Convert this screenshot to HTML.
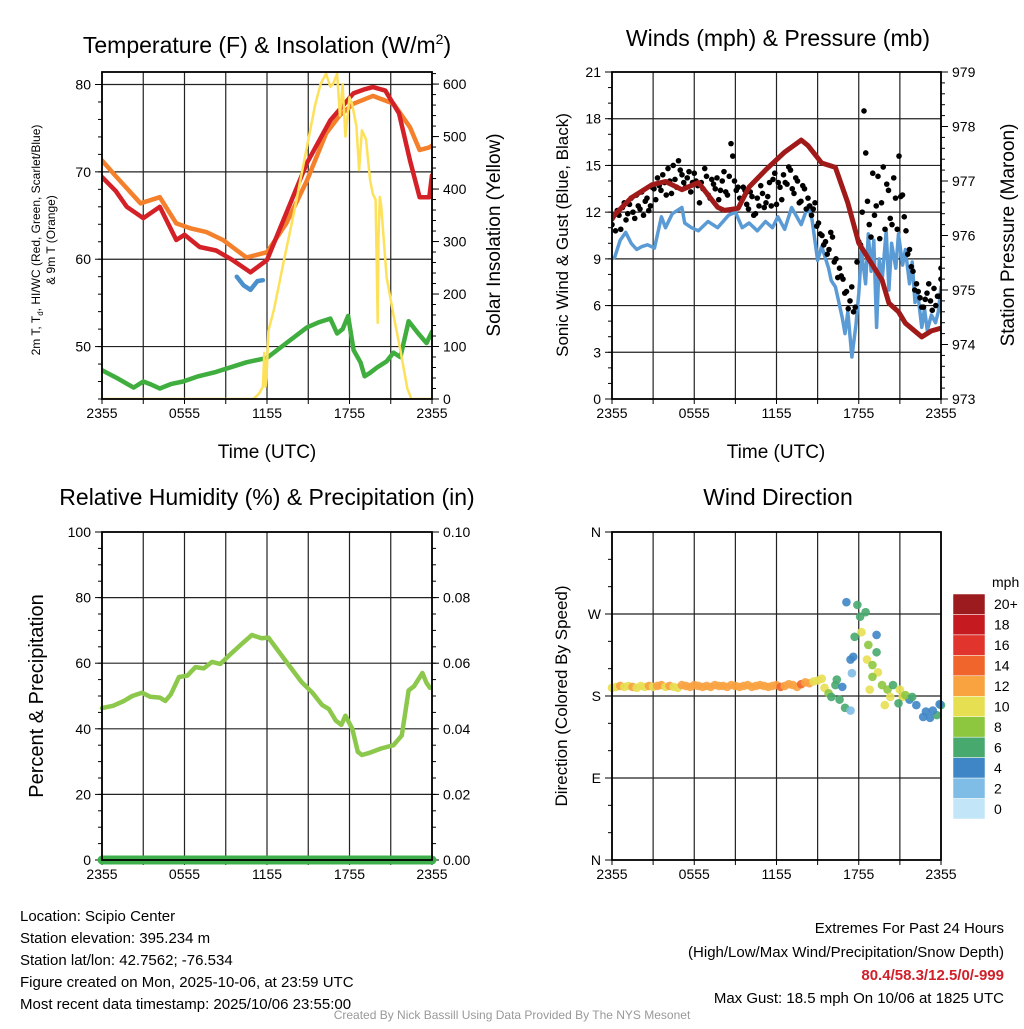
<!DOCTYPE html>
<html><head><meta charset="utf-8"><style>
html,body{margin:0;padding:0;background:#fff;}
svg text{font-family:"Liberation Sans",Arial,sans-serif;fill:#000;}
</style></head><body>
<svg id="s" width="1024" height="1024" viewBox="0 0 1024 1024" xmlns="http://www.w3.org/2000/svg">
<rect width="1024" height="1024" fill="#fff"/>
<text x="267" y="53" font-size="23" text-anchor="middle">Temperature (F) &amp; Insolation (W/m<tspan font-size="14" dy="-9">2</tspan><tspan dy="9">)</tspan></text>
<text x="778" y="46" font-size="23" text-anchor="middle">Winds (mph) &amp; Pressure (mb)</text>
<text x="267" y="505" font-size="23" text-anchor="middle">Relative Humidity (%) &amp; Precipitation (in)</text>
<text x="778" y="505" font-size="23" text-anchor="middle">Wind Direction</text>
<text x="267" y="458" font-size="19" text-anchor="middle">Time (UTC)</text>
<text x="776" y="458" font-size="19" text-anchor="middle">Time (UTC)</text>
<text transform="translate(40,240) rotate(-90)" font-size="12" text-anchor="middle">2m T, T<tspan font-size="8" dy="3">d</tspan><tspan dy="-3">, HI/WC (Red, Green, Scarlet/Blue)</tspan></text>
<text transform="translate(55,240) rotate(-90)" font-size="12" text-anchor="middle">&amp; 9m T (Orange)</text>
<text transform="translate(500,235) rotate(-90)" font-size="19" text-anchor="middle">Solar Insolation (Yellow)</text>
<text transform="translate(568,235) rotate(-90)" font-size="17" text-anchor="middle">Sonic Wind &amp; Gust (Blue, Black)</text>
<text transform="translate(1014,235) rotate(-90)" font-size="19" text-anchor="middle">Station Pressure (Maroon)</text>
<text transform="translate(43,696) rotate(-90)" font-size="20" text-anchor="middle">Percent &amp; Precipitation</text>
<text transform="translate(567,696) rotate(-90)" font-size="17" text-anchor="middle">Direction (Colored By Speed)</text>
<g font-size="15">
<text x="20" y="921">Location: Scipio Center</text>
<text x="20" y="943">Station elevation: 395.234 m</text>
<text x="20" y="965">Station lat/lon: 42.7562; -76.534</text>
<text x="20" y="987">Figure created on Mon, 2025-10-06, at 23:59 UTC</text>
<text x="20" y="1009">Most recent data timestamp: 2025/10/06 23:55:00</text>
</g>
<g font-size="15" text-anchor="end">
<text x="1004" y="933">Extremes For Past 24 Hours</text>
<text x="1004" y="957">(High/Low/Max Wind/Precipitation/Snow Depth)</text>
<text x="1004" y="980" style="fill:#d0202a" font-weight="bold">80.4/58.3/12.5/0/-999</text>
<text x="1004" y="1003">Max Gust: 18.5 mph On 10/06 at 1825 UTC</text>
</g>
<text x="512" y="1019" font-size="12" text-anchor="middle" style="fill:#999">Created By Nick Bassill Using Data Provided By The NYS Mesonet</text>
<g id="plots"></g>
</svg>
<script>
// ---- Temperature panel data ----
const orangeT=[0,1.0,2.8,4.2,5.4,6.5,7.6,8.8,10.5,12.0,13.4,14.9,16.3,17.3,18.3,19.7,21.2,22.4,23.1,23.8,24];
const orangeV=[71.3,69.5,66.4,67.1,64.1,63.5,63.1,62.2,60.2,60.8,64.1,69.0,74.4,76.5,77.8,78.7,77.8,75.1,72.5,72.8,73.0];
const redT=[0,1.0,1.8,3.0,4.2,5.4,6.0,7.1,8.3,9.5,10.8,12.0,13.2,14.9,16.6,18.3,19.0,19.7,20.6,21.6,22.4,23.1,23.8,24];
const redV=[69.4,67.8,66.0,64.7,66.0,62.2,62.8,61.4,61.0,59.9,58.5,59.9,64.5,71.0,75.9,79.0,79.4,79.7,79.3,76.7,71.3,67.1,67.1,69.6];
const blueT=[9.8,10.3,10.8,11.3,11.7];
const blueV=[58,57,56.5,57.5,57.6];
const greenT=[0,1.2,2.3,3.0,3.5,4.2,5.0,5.9,7.0,8.3,9.5,10.5,12.0,13.4,14.9,15.8,16.6,17.1,17.5,17.9,18.3,18.8,19.1,19.5,20.0,20.7,21.2,21.7,22.3,23.0,23.6,24];
const greenV=[47.3,46.3,45.3,46.0,45.7,45.2,45.7,46.0,46.6,47.1,47.7,48.2,48.7,50.4,52.2,52.8,53.2,51.5,52.0,53.5,49.6,48.2,46.6,47.0,47.6,48.3,49.3,48.8,52.9,51.5,50.4,51.7];
const solarT=[0,11.0,11.4,11.7,11.8,11.9,12.0,12.1,12.5,13.2,14.0,14.9,15.5,15.9,16.3,16.6,16.8,17.1,17.3,17.5,17.7,18.0,18.2,18.5,18.7,18.9,19.2,19.5,19.7,19.9,20.05,20.1,20.2,20.3,20.7,21.2,21.7,22.2,22.5,24];
const solarV=[0,0,10,23,88,23,60,130,170,260,360,480,560,600,620,595,600,620,540,600,500,575,560,520,436,512,495,417,390,380,145,300,385,370,232,160,93,20,0,0];
// ---- Wind panel data ----
const windT=[0,0.2,0.6,1.0,1.4,1.8,2.2,2.6,3.1,3.6,3.9,4.4,5.1,5.3,5.8,6.3,7.0,7.7,8.5,9.0,9.5,10.0,10.6,11.2,11.7,12.1,12.6,13.1,13.8,14.3,14.6,15.0,15.3,15.8,16.0,16.3,16.5,16.8,17.0,17.2,17.5,17.8,18.0,18.2,18.5,18.7,18.9,19.1,19.3,19.5,19.7,20.0,20.2,20.4,20.7,20.9,21.2,21.4,21.7,21.9,22.1,22.3,22.6,22.8,23.0,23.3,23.6,23.8,24];
const windV=[9.0,9.1,10.2,10.7,10.0,9.6,9.8,9.9,9.7,11.7,11.0,11.9,12.3,11.3,11.0,10.8,11.4,11.0,11.8,12.0,11.0,11.3,10.8,11.4,11.0,11.7,10.9,12.3,11.2,12.4,11.5,8.9,9.8,8.4,7.6,7.2,6.4,5.2,4.2,5.6,2.7,4.8,6.8,9.5,7.4,10.6,8.2,10.2,4.6,9.0,7.6,10.8,7.0,10.0,8.4,10.6,8.6,9.6,7.4,8.8,6.2,6.8,4.6,5.8,4.4,5.4,4.9,5.6,7.2];
const gustV=[11.2,10.8,11.8,12.3,11.5,12.5,12.0,13.1,12.2,11.8,12.9,12.4,13.5,14.2,13.4,13.9,14.8,13.2,14.1,15.3,14.4,13.6,14.6,13.9,14.0,12.6,13.5,14.3,12.9,13.8,14.2,13.4,14.6,13.1,16.4,14.0,13.6,12.8,13.4,12.2,13.0,11.9,12.4,13.2,12.6,13.9,14.1,12.5,13.6,14.4,13.8,14.7,13.2,14.0,12.7,13.5,12.9,11.8,12.6,11.3,10.5,10.1,9.6,10.4,9.0,8.4,7.7,6.9,6.3,5.6,8.8,9.9,18.5,12.7,10.4,11.8,14.3,12.6,10.9,13.4,11.2,12.9,15.6,13.1,10.8,9.6,8.2,7.4,6.5,5.9,6.8,6.3,7.1,6.6,8.4];
const gust2V=[11.8,12.1,10.9,12.6,11.9,12.9,11.6,12.4,13.3,12.7,12.1,13.6,12.8,13.7,14.4,13.1,14.0,15.0,13.6,14.7,13.9,14.2,13.3,14.5,13.7,13.9,14.8,13.1,14.1,13.5,12.8,14.0,13.3,14.3,15.6,13.4,12.9,13.6,12.5,13.3,11.8,12.9,13.7,12.3,13.0,12.4,14.5,13.9,12.8,13.9,14.9,13.5,14.2,12.6,13.7,12.2,12.4,12.2,11.1,10.6,9.9,9.3,10.7,8.8,7.8,7.9,6.8,5.8,7.2,5.9,10.1,12.0,15.8,11.2,14.5,12.4,10.3,14.9,13.8,11.6,14.2,10.9,13.0,11.7,9.3,8.5,7.0,6.9,5.9,6.4,7.4,5.7,6.0,6.6,7.7];
const presT=[0,0.2,1.4,2.9,3.9,5.1,6.3,7.7,8.2,9.2,10.0,11.2,12.6,13.8,14.3,15.3,16.3,17.2,18.0,18.9,19.7,20.2,20.9,21.4,22.6,23.3,24];
const presV=[976.3,976.38,976.69,976.93,976.99,976.84,976.97,976.52,976.46,976.5,976.89,977.2,977.53,977.75,977.65,977.33,977.25,976.6,975.86,975.5,975.18,974.76,974.6,974.39,974.14,974.25,974.3];
// ---- RH panel data ----
const rhT=[0,0.8,1.6,2.2,2.9,3.5,4.2,4.6,5.0,5.6,6.2,6.8,7.4,8.0,8.6,9.4,10.2,10.9,11.6,12.1,13.3,14.5,15.3,16.0,16.5,17.0,17.4,17.7,18.2,18.6,18.9,19.4,20.3,21.2,21.8,22.3,22.7,23.3,23.6,23.85];
const rhV=[46.3,47,48.5,50,51,49.8,49.5,48.5,50.5,55.8,56.2,58.8,58.4,60.4,59.8,63,66,68.6,67.6,67.8,61,54.3,51,47.3,46,42.5,41.2,44,40,33,32,32.6,34,35,38,51.7,53,57,54,52.5];
const precipT=[0,24];
const precipV=[0,0];
// ---- Direction panel data ----
const dirT=[0,0.3,0.6,0.9,1.2,1.5,1.8,2.1,2.4,2.7,3.0,3.3,3.6,3.9,4.2,4.5,4.8,5.1,5.4,5.7,6.0,6.3,6.6,6.9,7.2,7.5,7.8,8.1,8.4,8.7,9.0,9.3,9.6,9.9,10.2,10.5,10.8,11.1,11.4,11.7,12.0,12.3,12.6,12.9,13.2,13.5,13.8,14.1,14.4,14.7,15.0,15.3,
 17.1,17.9,18.5,18.1,18.2,19.3,17.7,18.7,19.3,18.6,19.0,19.4,19.0,18.8,19.7,17.4,17.6,17.5,16.4,16.3,15.5,15.8,16.0,16.8,16.6,17.0,17.4,20.1,20.5,20.3,21.0,21.2,20.9,19.9,21.7,22.2,22.7,23.2,23.7,24.0,21.4,21.9,22.9,23.4,23.9];
const dirV=[189,190,191,190,191,190,189,191,190,191,190,191,192,190,191,190,189,192,191,190,192,191,190,191,190,192,191,191,190,192,191,190,191,192,190,191,192,191,190,191,192,190,191,193,192,190,193,195,194,196,197,199,
 283,280,272,267,250,247,245,236,228,220,214,206,201,187,192,220,223,205,198,192,189,183,179,190,176,167,164,187,192,179,187,179,172,170,176,170,157,156,159,170,181,179,163,164,171];
const dirS=[9,10,11,10,10,11,10,9,10,11,10,12,11,10,11,10,10,11,12,11,12,12,11,12,12,11,12,12,12,11,12,12,11,12,12,12,11,12,12,12,12,13,12,12,12,12,13,12,11,10,9,10,
 4,6,6,6,10,4,6,8,6,10,8,10,8,10,8,4,4,2,6,6,10,8,6,4,6,6,2,8,6,10,10,10,6,10,4,4,4,4,6,6,8,6,4,4,4];
const speedLabels=["20+","18","16","14","12","10","8","6","4","2","0"];
const speedColors=["#9b1b1f","#c41a20","#e0342c","#f0652c","#f8a240","#e7df52","#8dc63f","#47a96e","#3f86c6","#80bde6","#c2e5f7"];
const xTickLabels=["2355","0555","1155","1755","2355"];

const NS="http://www.w3.org/2000/svg";
const root=document.getElementById('plots');
function mk(tag,attrs,parent){const e=document.createElementNS(NS,tag);for(const k in attrs)e.setAttribute(k,attrs[k]);(parent||root).appendChild(e);return e;}
function lin(d0,d1,r0,r1){return v=>r0+(v-d0)*(r1-r0)/(d1-d0);}
function line(xs,ys,fx,fy,color,w,name,g){
  const n=Math.min(xs.length,ys.length);let d='';
  for(let i=0;i<n;i++)d+=(i?'L':'M')+fx(xs[i]).toFixed(1)+','+fy(ys[i]).toFixed(1);
  const p=mk('path',{d:d,fill:'none',stroke:color,'stroke-width':w,'stroke-linejoin':'round','stroke-linecap':'round'},g);
  
  
  return p;
}
function frame(x0,y0,x1,y1,name){
  const g=mk('g',{});
  
  
  return g;
}
function xAxis(g,x0,x1,y0,y1){
  const fx=lin(0,24,x0,x1);
  for(let h=0;h<=24;h+=3){mk('line',{x1:fx(h),x2:fx(h),y1:y0,y2:y1,stroke:'#222','stroke-width':1.2},g);
    mk('line',{x1:fx(h),x2:fx(h),y1:y1,y2:y1+5,stroke:'#000','stroke-width':1},g);}
  xTickLabels.forEach((l,i)=>{const t=mk('text',{x:fx(i*6),y:y1+19,'font-size':14,'text-anchor':'middle'},g);t.textContent=l;
    
    });
  return fx;
}
function yAxis(g,side,x,y0,y1,d0,d1,major,minor,labels,grid,x0,x1){
  const fy=lin(d0,d1,y1,y0);const dir=side==='l'?-1:1;
  for(let v=d0;v<=d1+1e-9;v+=minor){const yy=fy(v);
    mk('line',{x1:x,x2:x+dir*4,y1:yy,y2:yy,stroke:'#000','stroke-width':1},g);}
  labels.forEach((l,i)=>{const v=d0+i*major;const yy=fy(v);
    mk('line',{x1:x,x2:x+dir*7,y1:yy,y2:yy,stroke:'#000','stroke-width':1},g);
    if(grid&&v>d0&&v<d1)mk('line',{x1:x0,x2:x1,y1:yy,y2:yy,stroke:'#222','stroke-width':1.2},g);
    const t=mk('text',{x:x+dir*11,y:yy+5,'font-size':14,'text-anchor':side==='l'?'end':'start'},g);t.textContent=l;
    
    });
  return fy;
}
function border(g,x0,y0,x1,y1){mk('rect',{x:x0,y:y0,width:x1-x0,height:y1-y0,fill:'none',stroke:'#000','stroke-width':1.8},g);}

// Panel 1
(function(){
  const x0=102,x1=432,y0=72,y1=399;const g=frame(x0,y0,x1,y1,'temperature-chart');
  const fx=xAxis(g,x0,x1,y0,y1);
  const fy=lin(44,81.43,y1,y0);
  yAxis(g,'l',x0,y0,y1,44,81.43,10,2,[],false);
  [50,60,70,80].forEach(v=>{const yy=fy(v);mk('line',{x1:x0,x2:x1,y1:yy,y2:yy,stroke:'#222','stroke-width':1.2},g);
    mk('line',{x1:x0,x2:x0-7,y1:yy,y2:yy,stroke:'#000'},g);
    const t=mk('text',{x:x0-11,y:yy+5,'font-size':14,'text-anchor':'end'},g);t.textContent=v;
    
    });
  const fs=lin(0,623,y1,y0);
  for(let v=0;v<=620;v+=20){mk('line',{x1:x1,x2:x1+4,y1:fs(v),y2:fs(v),stroke:'#000'},g);}
  for(let v=0;v<=600;v+=100){mk('line',{x1:x1,x2:x1+7,y1:fs(v),y2:fs(v),stroke:'#000'},g);
    const t=mk('text',{x:x1+11,y:fs(v)+5,'font-size':14},g);t.textContent=v;
    
    }
  const cp=mk('clipPath',{id:'c1'},g);mk('rect',{x:x0,y:y0,width:x1-x0,height:y1-y0},cp);
  const cg=mk('g',{'clip-path':'url(#c1)'},g);
  line(greenT,greenV,fx,fy,'#3fae3f',4.5,'dewpoint-line',cg);
  line(orangeT,orangeV,fx,fy,'#f4802c',4.5,'9m-temp-line',cg);
  line(redT,redV,fx,fy,'#d42127',4.5,'2m-temp-line',cg);
  line(blueT,blueV,fx,fy,'#4a90cd',4.5,'windchill-line',cg);
  line(solarT,solarV,fx,fs,'#fde15a',2.5,'solar-line',cg);
  border(g,x0,y0,x1,y1);
})();

// Panel 2
(function(){
  const x0=612,x1=941,y0=72,y1=399;const g=frame(x0,y0,x1,y1,'wind-chart');
  const fx=xAxis(g,x0,x1,y0,y1);
  const fy=yAxis(g,'l',x0,y0,y1,0,21,3,1,['0','3','6','9','12','15','18','21'],true,x0,x1);
  const fp=yAxis(g,'r',x1,y0,y1,973,979,1,0.2,['973','974','975','976','977','978','979'],false);
  const cp=mk('clipPath',{id:'c2'},g);mk('rect',{x:x0,y:y0,width:x1-x0,height:y1-y0},cp);
  const cg=mk('g',{'clip-path':'url(#c2)'},g);
  line(windT,windV,fx,fy,'#5b9bd5',3.5,'sonic-wind-line',cg);
  const gg=mk('g',{},cg);
  
  
  const n=gustV.length;
  gustV.forEach((v,i)=>{const c=mk('circle',{cx:fx(i*24/(n-1)),cy:fy(v),r:2.8,fill:'#000'},gg);
    
    });
  const n2=gust2V.length;
  gust2V.forEach((v,i)=>{const c=mk('circle',{cx:fx(Math.min(24,(i+0.5)*24/(n2-1))),cy:fy(v),r:2.8,fill:'#000'},gg);
    
    });
  line(presT,presV,fx,fp,'#a11a1a',5,'pressure-line',cg);
  border(g,x0,y0,x1,y1);
})();

// Panel 3
(function(){
  const x0=102,x1=432,y0=532,y1=860;const g=frame(x0,y0,x1,y1,'humidity-chart');
  const fx=xAxis(g,x0,x1,y0,y1);
  const fy=yAxis(g,'l',x0,y0,y1,0,100,20,5,['0','20','40','60','80','100'],true,x0,x1);
  yAxis(g,'r',x1,y0,y1,0,0.1,0.02,0.005,['0.00','0.02','0.04','0.06','0.08','0.10'],false);
  line(rhT,rhV,fx,fy,'#8cc84b',4.5,'rh-line',g);
  const fpr=lin(0,0.1,y1,y0);
  line(precipT,precipV,fx,fpr,'#3db04b',9,'precip-line',g);
  border(g,x0,y0,x1,y1);
})();

// Panel 4
(function(){
  const x0=612,x1=941,y0=532,y1=860;const g=frame(x0,y0,x1,y1,'direction-chart');
  const fx=xAxis(g,x0,x1,y0,y1);
  const fy=yAxis(g,'l',x0,y0,y1,0,360,90,30,['N','E','S','W','N'],true,x0,x1);
  const pg=mk('g',{},g);
  
  
  for(let i=0;i<Math.min(dirT.length,dirV.length,dirS.length);i++){
    const idx=Math.max(0,Math.min(10,10-Math.round(dirS[i]/2)));
    const c=mk('circle',{cx:fx(dirT[i]),cy:fy(dirV[i]),r:4.3,fill:speedColors[idx],'fill-opacity':0.9},pg);
    
    
  }
  border(g,x0,y0,x1,y1);
  const lg=mk('g',{});
  
  
  const ut=mk('text',{x:992,y:587,'font-size':14},lg);ut.textContent='mph';
  const bh=225/11;
  speedLabels.forEach((l,i)=>{const yy=594+i*bh;
    mk('rect',{x:953,y:yy,width:32,height:bh,fill:speedColors[i],stroke:'#fff','stroke-width':0.5},lg);
    const t=mk('text',{x:994,y:yy+bh/2+5,'font-size':14},lg);t.textContent=l;
    
    });
})();
</script>
</body></html>
